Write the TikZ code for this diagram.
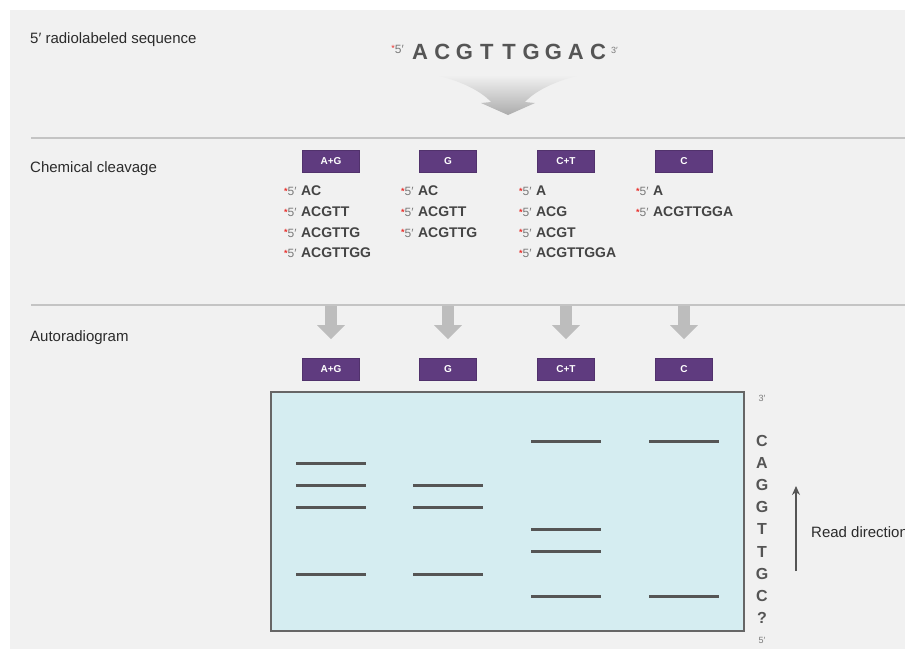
\documentclass[tikz,border=0pt]{standalone}
\usepackage{xcolor}
\usepackage{fontspec}
\setmainfont{Liberation Sans}
\usetikzlibrary{arrows.meta, positioning, calc}
\definecolor{panel-gray}{HTML}{F1F1F1}
\definecolor{rule-gray}{HTML}{C4C4C4}
\definecolor{drop-gray}{HTML}{BDBDBD}
\definecolor{lane-purple}{HTML}{5F3B7F}
\definecolor{gel-blue}{HTML}{D5EDF1}
\definecolor{band-gray}{HTML}{555555}
\definecolor{text-gray}{HTML}{2B2B2B}
\definecolor{label-red}{HTML}{E8322E}
\definecolor{prime-gray}{HTML}{7A7A7A}

\tikzset{
  heading/.style={anchor=west, inner sep=0pt, text=text-gray, font=\fontsize{15}{15}\selectfont},
  lanebox/.style={fill=lane-purple, draw=lane-purple!85!black, line width=0.8pt,
    minimum width=57pt, minimum height=22pt, inner sep=0pt, text=white,
    font=\fontsize{10}{10}\selectfont\bfseries},
  fragment/.style={anchor=west, inner sep=0pt, text=band-gray!80!black,
    font=\fontsize{14}{14}\selectfont\bfseries},
  readout/.style={inner sep=0pt, text=band-gray, font=\fontsize{16}{16}\selectfont\bfseries},
  endmark/.style={inner sep=0pt, text=prime-gray, font=\fontsize{9}{9}\selectfont},
  band/.style={band-gray, line width=3pt},
  droparrow/.style={drop-gray, line width=12pt, shorten >=19pt,
    -{Triangle[width=27pt, length=14pt]}},
}

\newcommand{\fivelab}{\textcolor{label-red}{\raisebox{1.5pt}{\fontsize{9}{9}\selectfont*}}\textcolor{prime-gray}{\mdseries\fontsize{12}{12}\selectfont 5′}}

\begin{document}
\begin{tikzpicture}[x=1pt, y=-1pt]
    \clip (0,0) rectangle (905,648);
    \fill[white] (0,0) rectangle (920,660);
    \fill[panel-gray] (10,10) rectangle (920,660);

    % Section rules
    \draw[rule-gray, line width=2.5pt] (31,138) -- (920,138);
    \draw[rule-gray, line width=2.5pt] (31,305) -- (920,305);

    % Headings
    \node[heading] (head-seq) at (30,40) {5′ radiolabeled sequence};
    \node[heading] (head-cleave) at (30,169) {Chemical cleavage};
    \node[heading] (head-auto) at (30,338) {Autoradiogram};

    % Labelled sequence
    \node[endmark, anchor=east] (seq-five) at (404,49) {\fivelab};
    \foreach \base [count=\i from 0] in {A,C,G,T,T,G,G,A,C} {
        \node[inner sep=0pt, text=band-gray, font=\fontsize{22}{22}\selectfont\bfseries]
            (seq-\i) at (420+22.25*\i,52) {\base};
    }
    \node[endmark, anchor=west] (seq-three) at (611,50) {3′};

    % Big funnel arrow
    \shade[top color=panel-gray, bottom color=gray!65]
        (435,75) .. controls (462,81) and (482,92) .. (491,102)
        -- (481,103) -- (508,115) -- (535,103) -- (525,102)
        .. controls (534,92) and (554,81) .. (581,75) -- cycle;

    % Lanes: labels, drop arrows and gel labels
    \foreach \x/\name/\lab in {331/ag/A+G, 448/g/G, 566/ct/C+T, 684/c/C} {
        \node[lanebox] (top-\name) at (\x,161.5) {\lab};
        \coordinate (drop-\name) at (\x,306);
        \node[lanebox] (gel-\name) at (\x,369.5) {\lab};
        \draw[droparrow] (drop-\name) -- (gel-\name);
    }

    % Cleavage fragments
    \foreach \x/\frags in {284/{AC,ACGTT,ACGTTG,ACGTTGG}, 401/{AC,ACGTT,ACGTTG},
                           519/{A,ACG,ACGT,ACGTTGGA}, 636/{A,ACGTTGGA}} {
        \foreach \s [count=\i from 0] in \frags {
            \node[fragment] at (\x,191+20.7*\i) {\fivelab\hspace{4.5pt}\s};
        }
    }

    % Gel
    \draw[fill=gel-blue, draw=band-gray!90, line width=2pt] (271,392) rectangle (744,631);
    \foreach \x/\ys in {331/{463,485,507,574}, 448/{485,507,574},
                        566/{441,529,551,596}, 684/{441,596}} {
        \foreach \y in \ys {
            \draw[band] (\x-35,\y) -- (\x+35,\y);
        }
    }

    % Read-out
    \node[endmark] (gel-three) at (762,398) {3′};
    \foreach \base [count=\i from 0] in {C,A,G,G,T,T,G,C,?} {
        \node[readout] (read-\i) at (762,441+22.1*\i) {\base};
    }
    \node[endmark] (gel-five) at (762,640) {5′};

    \coordinate (dir-start) at (796,571);
    \coordinate (dir-end) at (796,486);
    \draw[band-gray, line width=1.2pt, -{Stealth[length=9pt, width=8pt]}] (dir-start) -- (dir-end);
    \node[heading, overlay] (dir-label) at (811,532) {Read direction};
\end{tikzpicture}
\end{document}
